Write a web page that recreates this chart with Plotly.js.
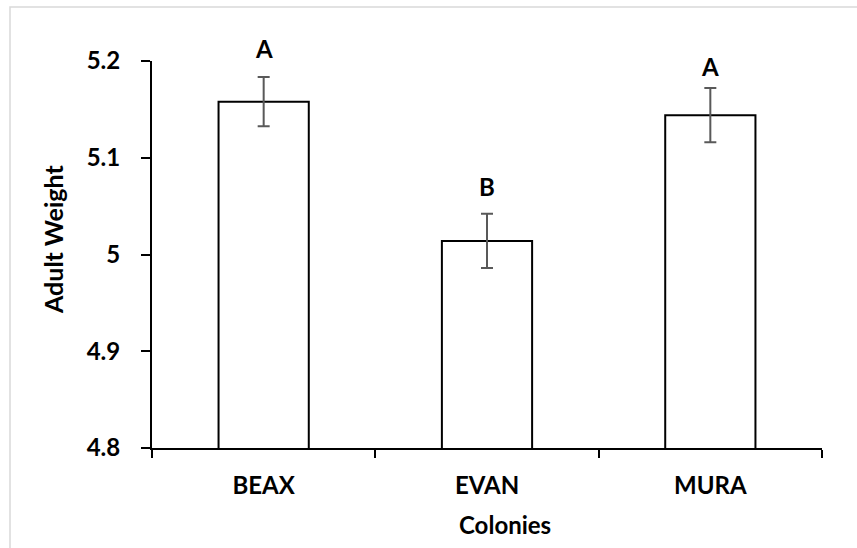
<!DOCTYPE html>
<html>
<head>
<meta charset="utf-8">
<script src="https://cdn.plot.ly/plotly-3.0.1.min.js"></script>
<style>
html,body{margin:0;padding:0;background:#fff;}
#chart{width:857px;height:548px;}
</style>
</head>
<body>
<div id="chart"></div>
<script>
const colonies = ['BEAX', 'EVAN', 'MURA'];
const adultWeight = [5.158, 5.014, 5.144];
const stdErr = [0.0255, 0.028, 0.028];
const groupLetters = ['A', 'B', 'A'];
const letterY = [5.2134, 5.0698, 5.1941];
const yTicks = [4.8, 4.9, 5.0, 5.1, 5.2];
const yTickText = ['4.8', '4.9', '5', '5.1', '5.2'];

const FONT = 'Lato, "Open Sans", sans-serif';
const W = 857, H = 548;
const L = 152, R = 35, T = 61, B = 100;
const Y0 = 4.8, Y1 = 5.2;
const pw = W - L - R, ph = H - T - B;
const px = v => (v - L) / pw;
const py = v => (H - B - v) / ph;

const trace = {
  type: 'bar',
  x: colonies,
  y: adultWeight,
  width: 0.404,
  marker: {color: '#ffffff', line: {color: '#000000', width: 2}},
  error_y: {type: 'data', array: stdErr, visible: true, color: '#595959', thickness: 2, width: 6},
  hoverinfo: 'x+y'
};

const annotations = colonies.map((c, i) => ({
  x: c, y: (letterY[i] - Y0) / (Y1 - Y0), xref: 'x', yref: 'paper',
  text: '<b>' + groupLetters[i] + '</b>', showarrow: false,
  xanchor: 'center', yanchor: 'middle',
  font: {family: FONT, size: 24, color: '#000'}
}));
annotations.push({
  x: px(505), y: py(524), xref: 'paper', yref: 'paper',
  text: '<b>Colonies</b>', showarrow: false,
  xanchor: 'center', yanchor: 'middle',
  font: {family: FONT, size: 24, color: '#000'}
});
annotations.push({
  x: px(53), y: py(240), xref: 'paper', yref: 'paper',
  text: '<b>Adult Weight</b>', showarrow: false, textangle: -90,
  xanchor: 'center', yanchor: 'middle',
  font: {family: FONT, size: 25, color: '#000'}
});

const layout = {
  width: W, height: H,
  margin: {l: L, r: R, t: T, b: B, pad: 0},
  paper_bgcolor: '#ffffff', plot_bgcolor: '#ffffff',
  showlegend: false,
  font: {family: FONT, color: '#000'},
  xaxis: {
    type: 'category',
    range: [-0.5, 2.5],
    showline: true, linecolor: '#000', linewidth: 2,
    ticks: 'outside', tickson: 'boundaries', ticklen: 8, tickwidth: 2, tickcolor: '#000',
    showgrid: false, zeroline: false,
    tickfont: {family: FONT, size: 24, color: '#000', weight: 'bold'},
    ticklabelstandoff: 15
  },
  yaxis: {
    range: [Y0, Y1],
    tickvals: yTicks, ticktext: yTickText,
    showline: true, linecolor: '#000', linewidth: 2,
    ticks: 'outside', ticklen: 9, tickwidth: 2, tickcolor: '#000',
    showgrid: false, zeroline: false,
    tickfont: {family: FONT, size: 24, color: '#000', weight: 'bold'},
    ticklabelstandoff: 16
  },
  annotations: annotations,
  shapes: [{
    type: 'rect', xref: 'paper', yref: 'paper', layer: 'below',
    x0: px(10), x1: px(880), y0: py(580), y1: py(7),
    line: {color: '#d9d9d9', width: 1.5}, fillcolor: 'rgba(0,0,0,0)'
  }]
};

Plotly.newPlot('chart', [trace], layout, {displayModeBar: false, staticPlot: true});
</script>
</body>
</html>
